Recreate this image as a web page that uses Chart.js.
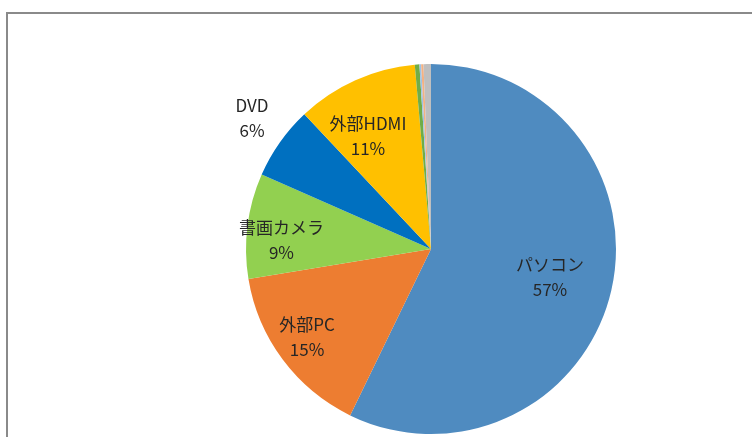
<!DOCTYPE html>
<html>
<head>
<meta charset="utf-8">
<script src="https://cdn.jsdelivr.net/npm/chart.js@4/dist/chart.umd.min.js"></script>
<style>
  html, body { margin: 0; padding: 0; background: #ffffff; overflow: hidden; }
  #wrap { position: relative; width: 752px; height: 437px; background: #ffffff; }
  #frame { position: absolute; left: 6px; top: 12px; width: 900px; height: 600px; border: 2px solid #8a8a8a; box-sizing: border-box; }
  canvas { position: absolute; left: 0; top: 0; }
</style>
</head>
<body>
<div id="wrap">
  <div id="frame"></div>
  <canvas id="c" width="752" height="437"></canvas>
</div>
<script>
// Data (percent share)
const categories = ['パソコン', '外部PC', '書画カメラ', 'DVD', '外部HDMI', 'その他A', 'その他B', 'その他C', 'その他D'];
const values = [57.2, 15.2, 9.2, 6.4, 10.6, 0.4, 0.15, 0.2, 0.65];
const showLabel = [true, true, true, true, true, false, false, false, false];
const sliceColors = ['#4F8BC0', '#ED7D31', '#92D050', '#0070C0', '#FFC000', '#70AD47', '#9DC3E6', '#F4B183', '#BFBFBF'];

// label placement: fraction of radius along the slice's mid angle, plus an angular nudge (degrees)
const labelRadius = [0.66, 0.82, 0.81, 1.2, 0.70, 0, 0, 0, 0];
const labelAngleShift = [0, 1.5, -3.5, 1, -5, 0, 0, 0, 0];

const total = values.reduce((a, b) => a + b, 0);

const labelPlugin = {
  id: 'sliceLabels',
  afterDatasetsDraw(chart) {
    const ctx = chart.ctx;
    const meta = chart.getDatasetMeta(0);
    ctx.save();
    ctx.font = '17px "Noto Sans CJK JP", "Noto Sans", sans-serif';
    ctx.fillStyle = '#262626';
    ctx.textAlign = 'center';
    ctx.textBaseline = 'middle';
    meta.data.forEach((arc, i) => {
      if (!showLabel[i]) return;
      const p = arc.getProps(['x', 'y', 'startAngle', 'endAngle', 'outerRadius'], true);
      const mid = (p.startAngle + p.endAngle) / 2 + labelAngleShift[i] * Math.PI / 180;
      const rr = p.outerRadius * labelRadius[i];
      const px = p.x + Math.cos(mid) * rr;
      const py = p.y + Math.sin(mid) * rr;
      const pct = Math.round(values[i] / total * 100) + '%';
      ctx.fillText(categories[i], px, py - 12);
      ctx.fillText(pct, px, py + 13);
    });
    ctx.restore();
  }
};

new Chart(document.getElementById('c'), {
  type: 'pie',
  data: {
    labels: categories,
    datasets: [{
      data: values,
      backgroundColor: sliceColors,
      borderWidth: 0
    }]
  },
  options: {
    responsive: false,
    animation: false,
    layout: { padding: { left: 110, right: 0, top: 64, bottom: 3 } },
    plugins: {
      legend: { display: false },
      tooltip: { enabled: false },
      title: { display: false }
    }
  },
  plugins: [labelPlugin]
});
</script>
</body>
</html>
